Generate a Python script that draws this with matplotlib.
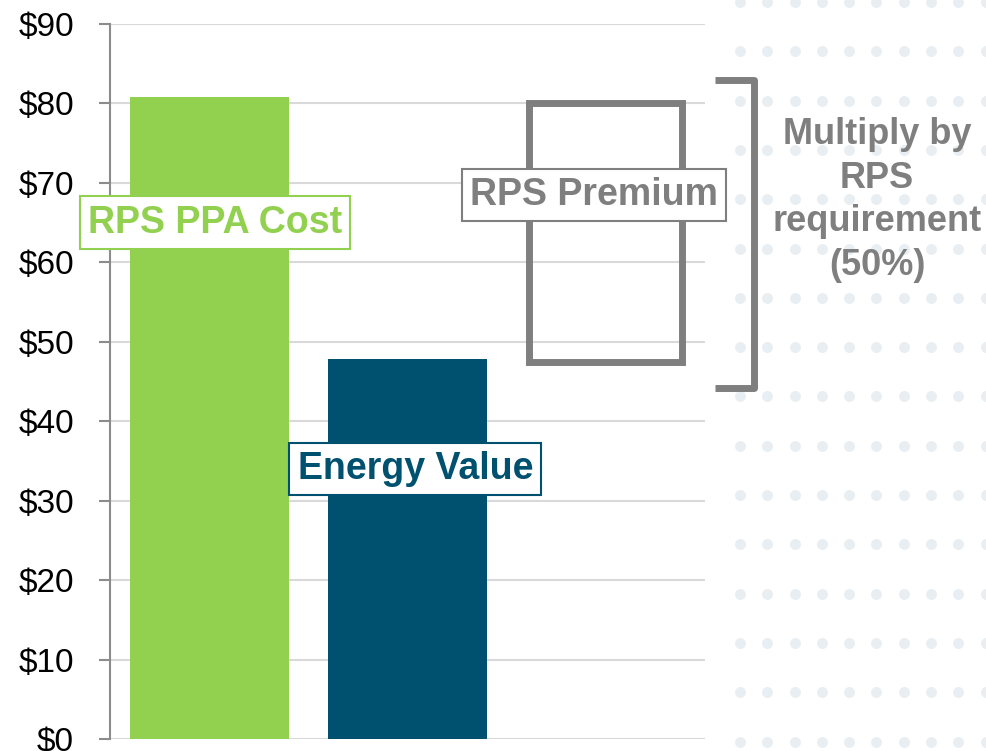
import matplotlib.pyplot as plt
import numpy as np

# values ($/MWh)
categories = ["RPS PPA Cost", "Energy Value", "RPS Premium"]
ppa_cost = 80.8
energy_value = 47.8
y_ticks = [0, 10, 20, 30, 40, 50, 60, 70, 80, 90]
rps_requirement = "50%"

green = "#92d050"
navy = "#00516f"
gray = "#7f7f7f"

plt.rcParams['font.family'] = ['Liberation Sans', 'DejaVu Sans']

fig = plt.figure(figsize=(9.86, 7.51), dpi=100)

# dotted background on the right hand side
bg = fig.add_axes([0, 0, 1, 1], zorder=-1)
bg.set_xlim(0, 986)
bg.set_ylim(751, 0)
bg.axis("off")
dx, dy = np.meshgrid(np.arange(740, 990, 27.3), np.arange(2, 760, 49.3))
bg.scatter(dx.ravel(), dy.ravel(), s=62, color="#e8eef2", linewidths=0)

ax = fig.add_axes([110 / 986, 12 / 751, 595 / 986, 715 / 751])
ax.patch.set_alpha(0)

x = np.arange(len(categories))
ax.bar(x[0], ppa_cost, width=0.8, color=green, zorder=2)
ax.bar(x[1], energy_value, width=0.8, color=navy, zorder=2)
ax.bar(x[2], ppa_cost - energy_value - 0.5, bottom=energy_value - 0.3, width=0.77,
       fill=False, edgecolor=gray, linewidth=5, zorder=2)

ax.set_xlim(-0.5, 2.5)
ax.set_ylim(0, 90)
ax.set_yticks(y_ticks)
ax.set_yticklabels(["$%d" % v for v in y_ticks], fontsize=24, color="black")
ax.set_xticks([])
ax.tick_params(axis="y", length=8, width=1.5, color="#8c8c8c", pad=18)
ax.yaxis.grid(True, color="#d9d9d9", linewidth=1.5, zorder=0)
for side in ["top", "right", "bottom"]:
    ax.spines[side].set_visible(False)
ax.spines["left"].set_color("#8c8c8c")
ax.spines["left"].set_linewidth(1.5)

# labels in boxes
ax.text(0.03, 65, categories[0], fontsize=27, fontweight="bold", color=green,
        ha="center", va="center", zorder=4,
        bbox=dict(boxstyle="square,pad=0.22", fc="white", ec=green, lw=1.5))
ax.text(1.04, 34, categories[1], fontsize=27, fontweight="bold", color=navy,
        ha="center", va="center", zorder=4,
        bbox=dict(boxstyle="square,pad=0.22", fc="white", ec=navy, lw=1.5))
ax.text(1.94, 68.5, categories[2], fontsize=27, fontweight="bold", color=gray,
        ha="center", va="center", zorder=4,
        bbox=dict(boxstyle="square,pad=0.22", fc="white", ec=gray, lw=1.5))

# bracket spanning the premium
top = ppa_cost + 2.2
bot = energy_value - 3.6
ax.plot([2.55, 2.745, 2.745, 2.55], [top, top, bot, bot], color=gray, lw=5,
        solid_joinstyle="round", solid_capstyle="butt", clip_on=False, zorder=3)

fig.text(877 / 986, 1 - 200 / 751,
         "Multiply by\nRPS\nrequirement\n(" + rps_requirement + ")",
         fontsize=26, fontweight="bold", color=gray, ha="center", va="center",
         linespacing=1.32)

fig.savefig("out.png", dpi=100)
